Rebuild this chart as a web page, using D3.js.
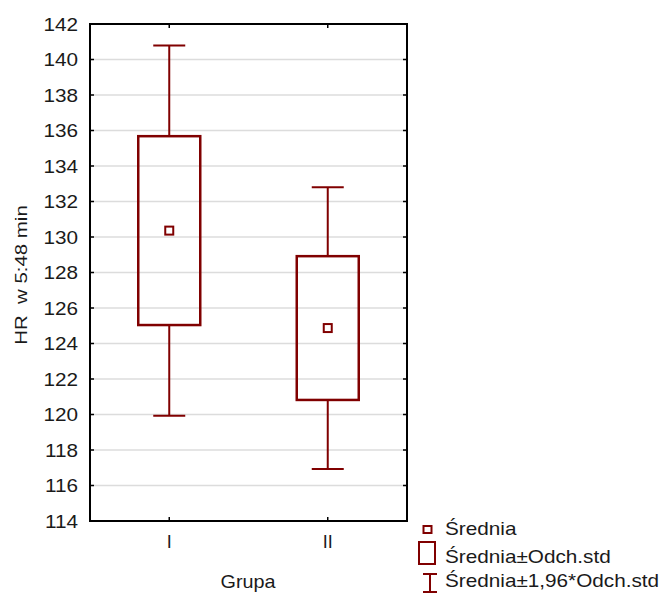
<!DOCTYPE html>
<html>
<head>
<meta charset="utf-8">
<script src="https://cdn.jsdelivr.net/npm/d3@7"></script>
<style>
  html, body { margin: 0; padding: 0; background: #fff; }
  svg text { font-family: Arial, "Liberation Sans", sans-serif; fill: #1a1a1a; }
</style>
</head>
<body>
<svg id="chart" width="662" height="593"></svg>
<script>
// Groups and their summary statistics (HR at 5:48 min)
const groups = ["I", "II"];
const means = [130.36, 124.87];
const sds = [5.32, 4.05];
const yTicks = [114, 116, 118, 120, 122, 124, 126, 128, 130, 132, 134, 136, 138, 140, 142];
const legendLabels = ["Średnia", "Średnia±Odch.std", "Średnia±1,96*Odch.std"];

const color = "#800000";
const svg = d3.select("#chart");

const plot = { left: 90, right: 407, top: 24, bottom: 521 };

const y = d3.scaleLinear().domain([114, 142]).range([plot.bottom, plot.top]);
const x = d3.scalePoint().domain(groups).range([plot.left, plot.right]).padding(0.5);

// Widen text slightly to the wide face used by the chart
function stretch(sel, k) {
  sel.each(function () {
    const w = this.getComputedTextLength();
    d3.select(this).attr("textLength", w * k).attr("lengthAdjust", "spacingAndGlyphs");
  });
}

// Grid lines
svg.append("g").selectAll("line")
  .data(yTicks.filter(t => t !== 114 && t !== 142))
  .join("line")
  .attr("x1", plot.left).attr("x2", plot.right)
  .attr("y1", d => y(d)).attr("y2", d => y(d))
  .attr("stroke", "#dcdcdc").attr("stroke-width", 1.3);

// Y axis labels
const yAxis = d3.axisLeft(y).tickValues(yTicks).tickSize(0).tickPadding(12);
const gy = svg.append("g").attr("transform", `translate(${plot.left},0)`).call(yAxis);
gy.select(".domain").remove();
gy.selectAll("text")
  .attr("font-size", 18.5)
  .attr("dy", "0.35em")
  .style("font-family", "Arial, 'Liberation Sans', sans-serif")
  .attr("fill", "#1a1a1a")
  .call(stretch, 1.12);

// Inner tick marks on all four edges
svg.append("g").selectAll("line").data(yTicks).join("line")
  .attr("x1", plot.right - 4).attr("x2", plot.right)
  .attr("y1", d => y(d)).attr("y2", d => y(d))
  .attr("stroke", "#000").attr("stroke-width", 1.5);
svg.append("g").selectAll("line").data(yTicks).join("line")
  .attr("x1", plot.left).attr("x2", plot.left + 4)
  .attr("y1", d => y(d)).attr("y2", d => y(d))
  .attr("stroke", "#000").attr("stroke-width", 1.5);
svg.append("g").selectAll("line").data(groups).join("line")
  .attr("x1", d => x(d)).attr("x2", d => x(d))
  .attr("y1", plot.top).attr("y2", plot.top + 4)
  .attr("stroke", "#000").attr("stroke-width", 1.5);
svg.append("g").selectAll("line").data(groups).join("line")
  .attr("x1", d => x(d)).attr("x2", d => x(d))
  .attr("y1", plot.bottom - 4).attr("y2", plot.bottom)
  .attr("stroke", "#000").attr("stroke-width", 1.5);

// X axis labels
svg.append("g").selectAll("text").data(groups).join("text")
  .attr("x", d => x(d)).attr("y", 548)
  .attr("text-anchor", "middle").attr("font-size", 18)
  .text(d => d);

// Frame
svg.append("rect")
  .attr("x", plot.left).attr("y", plot.top)
  .attr("width", plot.right - plot.left).attr("height", plot.bottom - plot.top)
  .attr("fill", "none").attr("stroke", "#000").attr("stroke-width", 2);

// Boxes and whiskers
const boxW = 62, capW = 32, meanSize = 8;
const data = groups.map((g, i) => ({ g, mean: means[i], sd: sds[i] }));
const marks = svg.append("g");
data.forEach(d => {
  const cx = x(d.g);
  const lo1 = d.mean - d.sd, hi1 = d.mean + d.sd;
  const lo2 = d.mean - 1.96 * d.sd, hi2 = d.mean + 1.96 * d.sd;
  // whiskers
  marks.append("line").attr("x1", cx).attr("x2", cx).attr("y1", y(hi2)).attr("y2", y(hi1))
    .attr("stroke", color).attr("stroke-width", 2);
  marks.append("line").attr("x1", cx).attr("x2", cx).attr("y1", y(lo1)).attr("y2", y(lo2))
    .attr("stroke", color).attr("stroke-width", 2);
  marks.append("line").attr("x1", cx - capW / 2).attr("x2", cx + capW / 2).attr("y1", y(hi2)).attr("y2", y(hi2))
    .attr("stroke", color).attr("stroke-width", 2);
  marks.append("line").attr("x1", cx - capW / 2).attr("x2", cx + capW / 2).attr("y1", y(lo2)).attr("y2", y(lo2))
    .attr("stroke", color).attr("stroke-width", 2);
  // box
  marks.append("rect").attr("x", cx - boxW / 2).attr("y", y(hi1))
    .attr("width", boxW).attr("height", y(lo1) - y(hi1))
    .attr("fill", "none").attr("stroke", color).attr("stroke-width", 2.5);
  // mean
  marks.append("rect").attr("x", cx - meanSize / 2).attr("y", y(d.mean) - meanSize / 2)
    .attr("width", meanSize).attr("height", meanSize)
    .attr("fill", "#fff").attr("stroke", color).attr("stroke-width", 2);
});

// Axis titles
svg.append("text")
  .attr("transform", "translate(27,275) rotate(-90)")
  .attr("text-anchor", "middle").attr("font-size", 17)
  .style("white-space", "pre")
  .text("HR  w 5:48 min")
  .call(stretch, 1.2);
svg.append("text")
  .attr("x", 248).attr("y", 588)
  .attr("text-anchor", "middle").attr("font-size", 18.5)
  .text("Grupa")
  .call(stretch, 1.07);

// Legend
const lg = svg.append("g");
const baselines = [535, 563, 587];
// mean marker
lg.append("rect").attr("x", 423.5).attr("y", 526).attr("width", 8).attr("height", 7)
  .attr("fill", "#fff").attr("stroke", color).attr("stroke-width", 2);
// box
lg.append("rect").attr("x", 419).attr("y", 542).attr("width", 16).attr("height", 22)
  .attr("fill", "none").attr("stroke", color).attr("stroke-width", 2);
// whisker
lg.append("line").attr("x1", 430).attr("x2", 430).attr("y1", 574).attr("y2", 592)
  .attr("stroke", color).attr("stroke-width", 2);
lg.append("line").attr("x1", 423).attr("x2", 437).attr("y1", 574).attr("y2", 574)
  .attr("stroke", color).attr("stroke-width", 2);
lg.append("line").attr("x1", 423).attr("x2", 437).attr("y1", 592).attr("y2", 592)
  .attr("stroke", color).attr("stroke-width", 2);
lg.selectAll("text").data(legendLabels).join("text")
  .attr("x", 445).attr("y", (d, i) => baselines[i])
  .attr("font-size", 18.5)
  .text(d => d)
  .call(stretch, 1.12);
</script>
</body>
</html>
